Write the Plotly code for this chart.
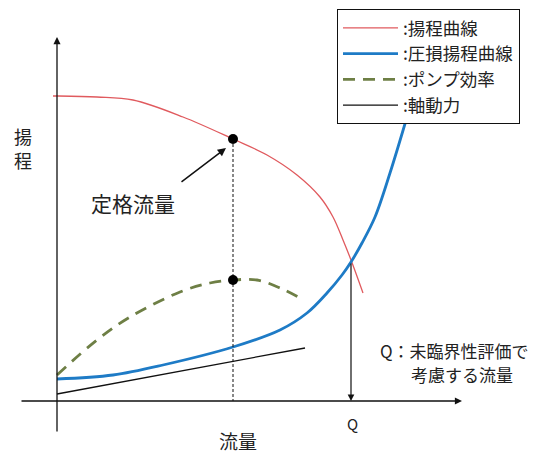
import plotly.graph_objects as go

FONT = "Noto Sans CJK JP"

# Pump head curve (揚程曲線)
head_flow = [-4, 0, 40, 76, 126, 176, 210, 240, 263, 276, 286, 294, 306]
head_vals = [305, 305, 304, 301, 284, 262, 246, 226, 204, 184, 161, 141, 108]

# Pressure-loss head curve (圧損揚程曲線)
loss_flow = [0, 56, 106, 176, 223, 250, 270, 285, 294, 305, 318, 333, 350]
loss_vals = [22, 26, 36, 54, 71, 88, 108, 126, 139, 158, 184, 228, 284]

# Pump efficiency (ポンプ効率)
eff_flow = [0, 40, 73, 123, 153, 176, 200, 223, 243]
eff_vals = [26, 61, 84, 109, 118, 121, 121, 113, 103]

# Shaft power (軸動力)
power_flow = [0, 248]
power_vals = [7, 53]

# Rated point and Q
rated_flow = 176
rated_head = 262
rated_eff = 121
q_flow = 294
q_head = 139

fig = go.Figure()

fig.add_trace(go.Scatter(x=head_flow, y=head_vals, mode="lines", name=":揚程曲線",
                         line=dict(color="#E05A5E", width=1.3, shape="spline")))
fig.add_trace(go.Scatter(x=loss_flow, y=loss_vals, mode="lines", name=":圧損揚程曲線",
                         line=dict(color="#1E7BC6", width=2.8, shape="spline")))
fig.add_trace(go.Scatter(x=eff_flow, y=eff_vals, mode="lines", name=":ポンプ効率",
                         line=dict(color="#6E7F45", width=2.8, dash="12px,8px", shape="spline")))
fig.add_trace(go.Scatter(x=power_flow, y=power_vals, mode="lines", name=":軸動力",
                         line=dict(color="#111111", width=1.3)))

# rated flow dotted line and points
fig.add_trace(go.Scatter(x=[rated_flow, rated_flow], y=[rated_head, 0], mode="lines",
                         line=dict(color="#111111", width=1, dash="3px,2px"), showlegend=False))
fig.add_trace(go.Scatter(x=[rated_flow, rated_flow], y=[rated_head, rated_eff], mode="markers",
                         marker=dict(color="black", size=10), showlegend=False))

annotations = []

def arrow(x, y, ax, ay, width=1.3):
    annotations.append(dict(x=x, y=y, ax=ax, ay=ay, xref="x", yref="y", axref="x", ayref="y",
                            text="", showarrow=True, arrowhead=2, arrowsize=1.1,
                            arrowwidth=width, arrowcolor="#111111"))

# axes
arrow(0, 364, 0, -32)
arrow(405, 0, -37, 0)
# rated flow pointer
arrow(169, 253, 123, 218, 1.5)
# Q arrow
arrow(q_flow, 0, q_flow, q_head, 1.2)

def label(x, y, text, size, xanchor="center"):
    annotations.append(dict(x=x, y=y, xref="x", yref="y", text=text, showarrow=False,
                            xanchor=xanchor, yanchor="middle", borderpad=0,
                            font=dict(family=FONT, size=size, color="#222222")))

label(-34, 265, "揚", 18)
label(-34, 241, "程", 18)
label(76, 198, "定格流量", 21)
label(q_flow + 1, -22, "Q", 15)
label(181, -39, "流量", 19)
label(322, 51, "Q：未臨界性評価で", 17, "left")
label(353, 27, "考慮する流量", 17, "left")

# the page is shown with an 8px body margin, so the figure covers 534x446
fig.update_layout(
    width=534, height=446,
    margin=dict(l=0, r=0, t=0, b=0),
    paper_bgcolor="white", plot_bgcolor="white",
    xaxis=dict(range=[-49, 485], visible=False, fixedrange=True),
    yaxis=dict(range=[-53, 393], visible=False, fixedrange=True),
    annotations=annotations,
    showlegend=True,
    legend=dict(x=329 / 534, y=1 - 1 / 446, xanchor="left", yanchor="top",
                bgcolor="white", bordercolor="#111111", borderwidth=1,
                font=dict(family=FONT, size=17.5, color="#222222"),
                itemwidth=55, tracegroupgap=0),
    font=dict(family=FONT),
)

fig.write_html("out.html")
